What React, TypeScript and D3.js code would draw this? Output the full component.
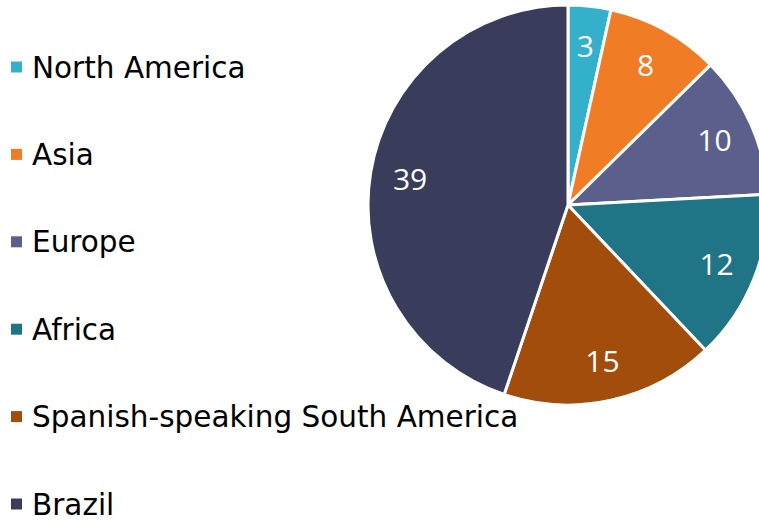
import React from "react";
import * as d3 from "d3";

const categories = ["North America", "Asia", "Europe", "Africa", "Spanish-speaking South America", "Brazil"];
const values = [3, 8, 10, 12, 15, 39];
const colors = ["#35B0CB", "#F07D26", "#5A5F8B", "#1F7585", "#A34D0C", "#3A3C5C"];

const W = 759;
const H = 520;
const cx = 568;
const cy = 205;
const R = 200;

export default function App() {
  const pie = d3.pie<number>().sort(null).value((d) => d)(values);
  const arc = d3.arc<d3.PieArcDatum<number>>().innerRadius(0).outerRadius(R);
  const labelArc = d3.arc<d3.PieArcDatum<number>>().innerRadius(R * 0.8).outerRadius(R * 0.8);
  const legendY = d3.scalePoint<string>().domain(categories).range([67, 504]);
  return (
    <svg width={W} height={H} style={{ position: "absolute", left: 0, top: 0 }}>
      <rect width={W} height={H} fill="#fff" />
      <g transform={`translate(${cx},${cy})`}>
        {pie.map((p, i) => (
          <path key={i} d={arc(p) || ""} fill={colors[i]} stroke="#fff" strokeWidth={3} strokeLinejoin="round" />
        ))}
        {pie.map((p, i) => {
          const [x, y] = labelArc.centroid(p);
          return (
            <text key={i} x={x} y={y} dy="0.36em" textAnchor="middle" fill="#fff"
              fontFamily="'Open Sans', sans-serif" fontSize={30}>
              {values[i]}
            </text>
          );
        })}
      </g>
      {categories.map((c, i) => {
        const y = legendY(c)!;
        return (
          <g key={c}>
            <rect x={11} y={y - 5.5} width={11} height={11} fill={colors[i]} />
            <text x={32} y={y} dy="0.36em" fontFamily="'DejaVu Sans', Verdana, sans-serif" fontSize={29.5} fill="#000">
              {c}
            </text>
          </g>
        );
      })}
    </svg>
  );
}
